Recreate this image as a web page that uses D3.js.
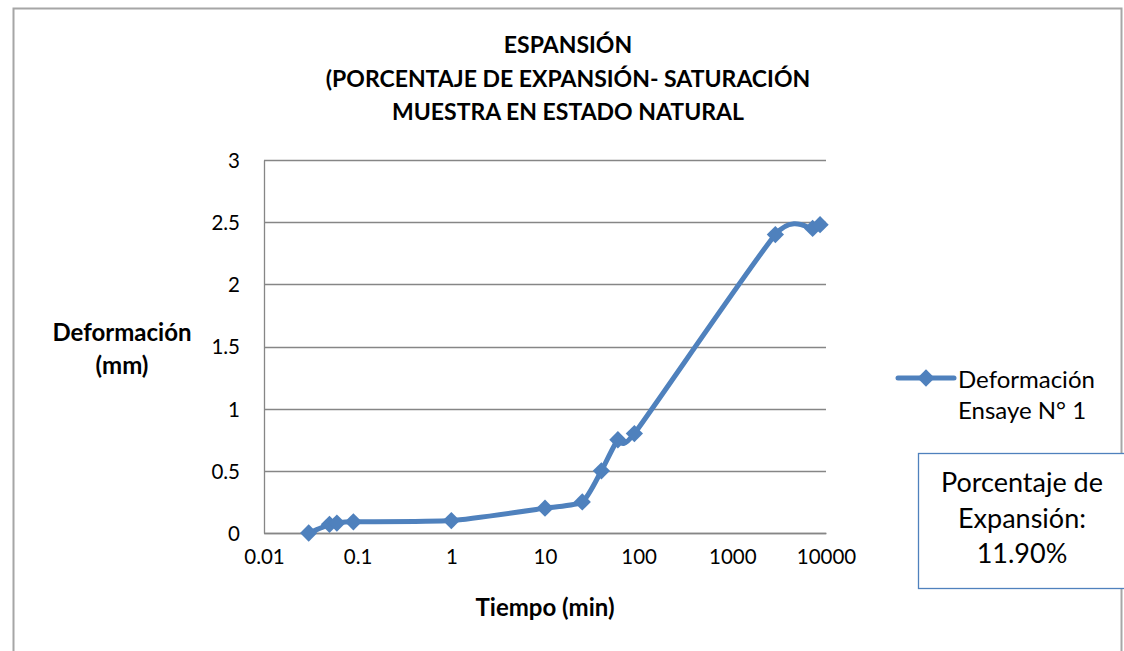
<!DOCTYPE html>
<html>
<head>
<meta charset="utf-8">
<script src="https://cdn.jsdelivr.net/npm/d3@7"></script>
<style>
  body { margin: 0; background: #fff; }
  text { font-family: Lato, "Open Sans", sans-serif; fill: #000; }
</style>
</head>
<body>
<script>
// data
var tiempo = [0.03, 0.05, 0.06, 0.09, 1, 10, 25, 40, 60, 90, 2880, 7200, 8640];
var deformacion = [0.0, 0.07, 0.08, 0.09, 0.1, 0.2, 0.25, 0.5, 0.75, 0.8, 2.4, 2.45, 2.48];
var xTicks = [0.01, 0.1, 1, 10, 100, 1000, 10000];
var yTicks = [0, 0.5, 1, 1.5, 2, 2.5, 3];
var titleLines = ["ESPANSIÓN", "(PORCENTAJE DE EXPANSIÓN- SATURACIÓN", "MUESTRA EN ESTADO NATURAL"];
var seriesName = ["Deformación", "Ensaye N° 1"];
var noteLines = ["Porcentaje de", "Expansión:", "11.90%"];

var outerWidth = 1124, outerHeight = 651;
var margin = {top: 160, right: 298, bottom: 118, left: 264},
    width = outerWidth - margin.left - margin.right,
    height = outerHeight - margin.top - margin.bottom;

var blue = "#4f81bd";

var svg = d3.select("body").append("svg")
    .attr("width", outerWidth)
    .attr("height", outerHeight);

// chart frame
svg.append("rect")
    .attr("x", 13.5).attr("y", 8.5)
    .attr("width", 1108).attr("height", 660)
    .attr("fill", "none")
    .attr("stroke", "#a6a6a6")
    .attr("stroke-width", 2);

var x = d3.scaleLog().domain([0.01, 10000]).range([0, width]);
var y = d3.scaleLinear().domain([0, 3]).range([height, 0]);

var g = svg.append("g")
    .attr("transform", `translate(${margin.left},${margin.top})`);

// gridlines
g.selectAll(".grid")
    .data(yTicks)
  .enter().append("line")
    .attr("x1", 0).attr("x2", width)
    .attr("y1", function(d) { return Math.round(y(d)) + 0.5; })
    .attr("y2", function(d) { return Math.round(y(d)) + 0.5; })
    .attr("stroke", "#868686")
    .attr("stroke-width", 1.3);

// y axis
var yAxis = g.append("g")
    .call(d3.axisLeft(y).tickValues(yTicks).tickSize(0).tickPadding(24).tickFormat(d3.format("")));
yAxis.select(".domain").attr("stroke", "#868686").attr("stroke-width", 1.3);
yAxis.selectAll("text").style("font-size", "20.5px").attr("dy", "0.36em");

// x axis
var xAxis = g.append("g")
    .attr("transform", `translate(0,${height})`)
    .call(d3.axisBottom(x).tickValues(xTicks).tickSize(0).tickPadding(16).tickFormat(function(d) { return String(d); }));
xAxis.select(".domain").attr("stroke", "#868686").attr("stroke-width", 1.3);
xAxis.selectAll("text").style("font-size", "20.5px");

// series line (smoothed like the spreadsheet line)
var line = d3.line()
    .x(function(d, i) { return x(tiempo[i]); })
    .y(function(d) { return y(d); })
    .curve(d3.curveCardinal.tension(0.4));

g.append("path")
    .datum(deformacion)
    .attr("d", line)
    .attr("fill", "none")
    .attr("stroke", blue)
    .attr("stroke-width", 5)
    .attr("stroke-linejoin", "round");

var diamond = d3.symbol().type(d3.symbolDiamond2).size(190);
g.selectAll(".pt")
    .data(deformacion)
  .enter().append("path")
    .attr("transform", function(d, i) { return `translate(${x(tiempo[i])},${y(d)})`; })
    .attr("d", diamond)
    .attr("fill", blue);

// title
svg.append("g").selectAll("text")
    .data(titleLines)
  .enter().append("text")
    .attr("x", 568)
    .attr("y", function(d, i) { return 53 + i * 33.5; })
    .attr("text-anchor", "middle")
    .style("font-size", "23px")
    .style("font-weight", "bold")
    .text(function(d) { return d; });

// axis titles
svg.append("text")
    .attr("x", 122).attr("y", 341)
    .attr("text-anchor", "middle")
    .style("font-size", "24px").style("font-weight", "bold")
    .text("Deformación");
svg.append("text")
    .attr("x", 122).attr("y", 374)
    .attr("text-anchor", "middle")
    .style("font-size", "24px").style("font-weight", "bold")
    .text("(mm)");
svg.append("text")
    .attr("x", 545).attr("y", 616)
    .attr("text-anchor", "middle")
    .style("font-size", "24px").style("font-weight", "bold")
    .text("Tiempo (min)");

// legend
var leg = svg.append("g").attr("transform", "translate(898,378)");
leg.append("line")
    .attr("x1", 0).attr("x2", 56).attr("y1", 0).attr("y2", 0)
    .attr("stroke", blue).attr("stroke-width", 5).attr("stroke-linecap", "round");
leg.append("path").attr("transform", "translate(28,0)").attr("d", diamond).attr("fill", blue);
leg.selectAll(".lt")
    .data(seriesName)
  .enter().append("text")
    .attr("x", 60)
    .attr("y", function(d, i) { return 10 + i * 31; })
    .style("font-size", "24px")
    .text(function(d) { return d; });

// note box
svg.append("rect")
    .attr("x", 918.5).attr("y", 453.5)
    .attr("width", 220).attr("height", 135)
    .attr("fill", "#fff")
    .attr("stroke", blue)
    .attr("stroke-width", 1.3);
svg.append("g").selectAll("text")
    .data(noteLines)
  .enter().append("text")
    .attr("x", 1022)
    .attr("y", function(d, i) { return 492 + i * 35.5; })
    .attr("text-anchor", "middle")
    .style("font-size", "27px")
    .text(function(d) { return d; });
</script>
</body>
</html>
